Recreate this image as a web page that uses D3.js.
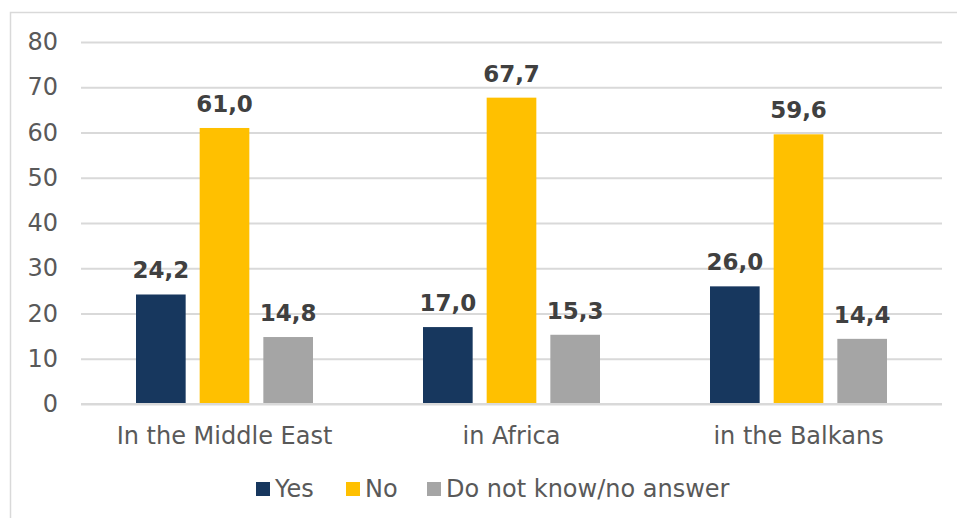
<!DOCTYPE html>
<html lang="en">
<head>
<meta charset="UTF-8">
<title>Yes / No by region</title>
<script src="https://d3js.org/d3.v7.min.js"></script>
<style>
  body { margin: 0; background: #fff; }
  text { font-family: Verdana, "DejaVu Sans", sans-serif; }
</style>
</head>
<body>
<div id="chart"></div>
<script>
  // data
  const regions = ["In the Middle East", "in Africa", "in the Balkans"];
  const answers = ["Yes", "No", "Do not know/no answer"];
  const yesVals = [24.2, 17.0, 26.0];
  const noVals = [61.0, 67.7, 59.6];
  const dkVals = [14.8, 15.3, 14.4];
  const yTicks = [0, 10, 20, 30, 40, 50, 60, 70, 80];
  const colors = ["#17375e", "#ffc000", "#a5a5a5"];

  const series = [yesVals, noVals, dkVals];

  const W = 957, H = 518;
  const margin = { left: 81, right: 15, top: 42, bottom: 114 };
  const plotW = W - margin.left - margin.right;
  const plotH = H - margin.top - margin.bottom;

  const svg = d3.select("#chart").append("svg")
      .attr("width", W)
      .attr("height", H);

  // outer frame
  svg.append("rect")
      .attr("x", 10.5).attr("y", 12.5)
      .attr("width", W).attr("height", H)
      .attr("fill", "none")
      .attr("stroke", "#d9d9d9")
      .attr("stroke-width", 1.5);

  const g = svg.append("g")
      .attr("transform", `translate(${margin.left},${margin.top})`);

  const x0 = d3.scaleBand().domain(regions).range([0, plotW]);
  const x1 = d3.scaleBand().domain(answers)
      .range([x0.bandwidth() / 2 - 88.5, x0.bandwidth() / 2 + 88.5])
      .paddingInner(0.22);
  const y = d3.scaleLinear().domain([0, 80]).range([plotH, 0]);

  // gridlines
  g.append("g")
      .call(d3.axisLeft(y).tickValues(yTicks).tickSize(-plotW).tickFormat(""))
      .call(a => a.select(".domain").remove())
      .call(a => a.selectAll("line").attr("stroke", "#d9d9d9").attr("stroke-width", 2));

  // y tick labels
  g.append("g")
      .call(d3.axisLeft(y).tickValues(yTicks).tickSize(0).tickPadding(23))
      .call(a => a.select(".domain").remove())
      .call(a => a.selectAll("text")
          .attr("fill", "#595959")
          .style("font-size", "24px")
          .style("font-family", "Verdana, 'DejaVu Sans', sans-serif"));

  // bars
  const groups = g.selectAll(".grp")
      .data(regions)
      .join("g")
      .attr("class", "grp")
      .attr("transform", d => `translate(${x0(d)},0)`);

  groups.each(function(region, ri) {
    const grp = d3.select(this);
    answers.forEach((ans, si) => {
      const v = series[si][ri];
      grp.append("rect")
          .attr("x", x1(ans))
          .attr("y", y(v))
          .attr("width", x1.bandwidth())
          .attr("height", plotH - y(v))
          .attr("fill", colors[si]);
      grp.append("text")
          .attr("x", x1(ans) + x1.bandwidth() / 2)
          .attr("y", y(v) - 16)
          .attr("text-anchor", "middle")
          .attr("fill", "#404040")
          .style("font-size", "23px")
          .style("font-weight", "bold")
          .text(v.toFixed(1).replace(".", ","));
    });
  });

  // baseline
  g.append("line")
      .attr("x1", 0).attr("x2", plotW)
      .attr("y1", y(0)).attr("y2", y(0))
      .attr("stroke", "#d9d9d9").attr("stroke-width", 2);

  // category labels
  g.append("g")
      .attr("transform", `translate(0,${plotH})`)
      .call(d3.axisBottom(x0).tickSize(0).tickPadding(23))
      .call(a => a.select(".domain").remove())
      .call(a => a.selectAll("text")
          .attr("fill", "#595959")
          .style("font-size", "24px")
          .style("font-family", "Verdana, 'DejaVu Sans', sans-serif"));

  // legend
  const legendX = [256, 346, 427];
  const legend = svg.append("g").attr("transform", "translate(0,482)");
  answers.forEach((ans, i) => {
    legend.append("rect")
        .attr("x", legendX[i]).attr("y", 0)
        .attr("width", 14).attr("height", 14)
        .attr("fill", colors[i]);
    legend.append("text")
        .attr("x", legendX[i] + 19).attr("y", 15)
        .attr("fill", "#595959")
        .style("font-size", "24px")
        .text(ans);
  });
</script>
</body>
</html>
